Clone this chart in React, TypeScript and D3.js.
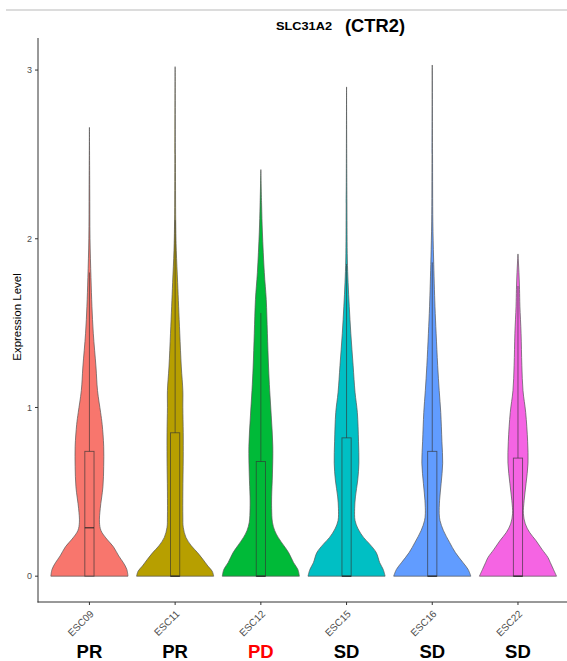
import React from "react";
import * as d3 from "d3";

const categories = ["ESC09", "ESC11", "ESC12", "ESC15", "ESC16", "ESC22"];
const groupLabels = ["PR", "PR", "PD", "SD", "SD", "SD"];
const groupColors = ["#000000", "#000000", "#ff0000", "#000000", "#000000", "#000000"];
const fills = ["#F8766D", "#B79F00", "#00BA38", "#00BFC4", "#619CFF", "#F564E3"];
const yTicks = [0, 1, 2, 3];

// violin profiles: [expression level, relative density (1 = widest)]
const dens09: [number, number][] = [[0,1.0],[0.04,0.97],[0.08,0.88],[0.12,0.76],[0.175,0.62],[0.22,0.45],[0.27,0.30],[0.32,0.26],[0.40,0.28],[0.53,0.35],[0.65,0.37],[0.77,0.37],[0.9,0.33],[0.97,0.29],[1.1,0.21],[1.24,0.17],[1.44,0.10],[1.6,0.065],[1.77,0.04],[2.0,0.015],[2.3,0.008],[2.66,0.0]];
const dens11: [number, number][] = [[0,1.0],[0.03,0.96],[0.06,0.85],[0.1,0.72],[0.14,0.58],[0.18,0.42],[0.23,0.28],[0.29,0.21],[0.35,0.2],[0.5,0.2],[0.7,0.21],[0.85,0.21],[1.0,0.2],[1.1,0.2],[1.24,0.16],[1.44,0.12],[1.6,0.09],[1.74,0.065],[1.93,0.03],[2.1,0.015],[2.5,0.008],[3.02,0.0]];
const dens12: [number, number][] = [[0,1.0],[0.04,0.96],[0.08,0.85],[0.14,0.72],[0.18,0.6],[0.23,0.45],[0.27,0.36],[0.32,0.3],[0.4,0.28],[0.47,0.28],[0.6,0.3],[0.77,0.31],[0.95,0.27],[1.1,0.23],[1.24,0.2],[1.44,0.17],[1.64,0.14],[1.8,0.09],[2.04,0.04],[2.2,0.02],[2.41,0.0]];
const dens15: [number, number][] = [[0,1.0],[0.04,0.95],[0.08,0.86],[0.14,0.77],[0.19,0.6],[0.23,0.44],[0.28,0.3],[0.33,0.22],[0.4,0.21],[0.47,0.23],[0.57,0.29],[0.67,0.32],[0.8,0.31],[0.97,0.28],[1.09,0.22],[1.25,0.17],[1.44,0.11],[1.6,0.07],[1.74,0.04],[1.88,0.02],[2.2,0.01],[2.9,0.0]];
const dens16: [number, number][] = [[0,1.0],[0.04,0.93],[0.08,0.8],[0.14,0.6],[0.2,0.45],[0.27,0.29],[0.33,0.2],[0.37,0.18],[0.45,0.19],[0.55,0.23],[0.67,0.27],[0.8,0.25],[0.97,0.22],[1.1,0.18],[1.25,0.14],[1.44,0.1],[1.6,0.07],[1.88,0.035],[2.1,0.015],[2.5,0.007],[3.03,0.0]];
const dens22: [number, number][] = [[0,1.0],[0.04,0.92],[0.08,0.84],[0.11,0.78],[0.16,0.62],[0.21,0.47],[0.26,0.3],[0.31,0.19],[0.37,0.14],[0.45,0.16],[0.55,0.21],[0.67,0.26],[0.8,0.25],[0.97,0.2],[1.1,0.13],[1.25,0.1],[1.44,0.08],[1.6,0.05],[1.7,0.04],[1.8,0.025],[1.91,0.0]];
const densities = [dens09, dens11, dens12, dens15, dens16, dens22];

// boxplot stats
const q1s = [0, 0, 0, 0, 0, 0];
const medians = [0.287, 0, 0, 0, 0, 0];
const q3s = [0.74, 0.85, 0.68, 0.82, 0.74, 0.70];
const whiskerHi = [1.80, 2.11, 1.56, 1.85, 1.86, 1.72];

const W = 567;
const H = 661;
const FONT = "'Liberation Sans', Arial, Helvetica, sans-serif";

export default function App() {
  const x = d3.scalePoint<string>().domain(categories).range([38, 569.4]).padding(0.6);
  const y = d3.scaleLinear().domain([-0.153, 3.19]).range([602, 38]);
  const step = x.step();
  const halfMax = 0.45 * step;
  const boxHalf = 4.6;

  return (
    <svg width={W} height={H} style={{ position: "absolute", left: 0, top: 0, background: "#fff" }}>
      <line x1={6} x2={567} y1={10} y2={10} stroke="#d0d0d0" strokeWidth={1.5} />
      <text x={276} y={30} fontFamily={FONT} fontWeight="bold" fill="#000" fontSize={11.5} textLength={56} lengthAdjust="spacingAndGlyphs">SLC31A2</text>
      <text x={345} y={32} fontFamily={FONT} fontWeight="bold" fill="#000" fontSize={18} textLength={60} lengthAdjust="spacingAndGlyphs">(CTR2)</text>

      {categories.map((c, i) => {
        const cx = x(c)!;
        const area = d3
          .area<[number, number]>()
          .x0((d) => cx - d[1] * halfMax)
          .x1((d) => cx + d[1] * halfMax)
          .y((d) => y(d[0]))
          .curve(d3.curveCatmullRom);
        const pts = densities[i];
        return (
          <g key={c}>
            <path d={area(pts)!} fill={fills[i]} stroke="#555" strokeWidth={0.7} />
            <line x1={cx} x2={cx} y1={y(q3s[i])} y2={y(whiskerHi[i])} stroke="#333" strokeOpacity={0.7} strokeWidth={0.9} />
            <rect x={cx - boxHalf} width={boxHalf * 2} y={y(q3s[i])} height={y(q1s[i]) - y(q3s[i])} fill="none" stroke="#333" strokeOpacity={0.7} strokeWidth={0.9} />
            <line x1={cx - boxHalf} x2={cx + boxHalf} y1={y(medians[i])} y2={y(medians[i])} stroke="#222" strokeWidth={1.3} strokeOpacity={0.8} />
          </g>
        );
      })}

      {/* axes */}
      <line x1={38} x2={38} y1={38} y2={602.5} stroke="#333" strokeWidth={1} />
      <line x1={37.5} x2={567} y1={602} y2={602} stroke="#333" strokeWidth={1} />
      {yTicks.map((t) => (
        <g key={t}>
          <line x1={35} x2={38} y1={y(t)} y2={y(t)} stroke="#333" strokeWidth={1} />
          <text x={32} y={y(t) + 3.2} textAnchor="end" fontSize={9} fill="#4d4d4d" fontFamily={FONT}>{t}</text>
        </g>
      ))}
      <text transform="translate(21,317) rotate(-90)" textAnchor="middle" fontSize={11.5} fill="#000" fontFamily={FONT}>Expression Level</text>

      {categories.map((c, i) => {
        const cx = x(c)!;
        return (
          <g key={"xt" + c}>
            <line x1={cx} x2={cx} y1={602} y2={605} stroke="#333" strokeWidth={1} />
            <text transform={`translate(${cx + 5},${614.5}) rotate(-45)`} textAnchor="end" fontSize={10} fill="#4d4d4d" fontFamily={FONT}>{c}</text>
            <text x={cx} y={658} textAnchor="middle" fontSize={18.5} fontWeight="bold" fill={groupColors[i]} fontFamily={FONT}>{groupLabels[i]}</text>
          </g>
        );
      })}
    </svg>
  );
}
